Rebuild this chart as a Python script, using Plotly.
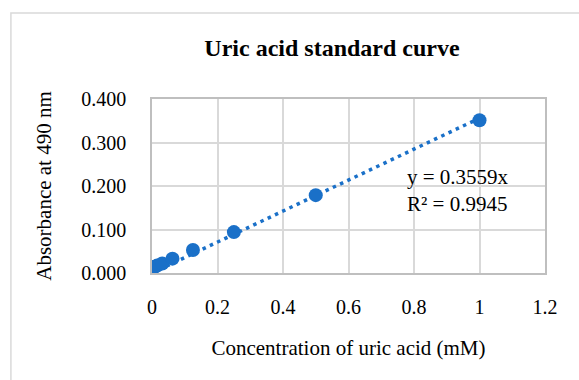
import plotly.graph_objects as go

# Uric acid standards (mM) and absorbance readings at 490 nm
concentration = [0, 0.0078, 0.0156, 0.03125, 0.0625, 0.125, 0.25, 0.5, 1]
absorbance = [0.013, 0.014, 0.017, 0.022, 0.033, 0.053, 0.094, 0.179, 0.351]

# Linear fit through the origin
slope = 0.3559
r_squared = 0.9945
fit_x = [0, 1]
fit_y = [slope * v for v in fit_x]

x_ticks = [0, 0.2, 0.4, 0.6, 0.8, 1, 1.2]
x_tick_labels = ["0", "0.2", "0.4", "0.6", "0.8", "1", "1.2"]
y_ticks = [0, 0.1, 0.2, 0.3, 0.4]

blue = "#1A70C8"
grid = "#D9D9D9"
font_family = "Liberation Serif, DejaVu Serif, serif"

fig = go.Figure()

fig.add_trace(go.Scatter(
    x=fit_x, y=fit_y, mode="lines",
    line=dict(color=blue, width=3.5, dash="3.5px,4.5px"),
    hoverinfo="skip", showlegend=False,
))

fig.add_trace(go.Scatter(
    x=concentration, y=absorbance, mode="markers",
    marker=dict(color=blue, size=14, line=dict(width=0)),
    showlegend=False,
))

fig.add_annotation(
    x=0.772, y=0.189, xref="x", yref="y",
    text=f"y = {slope}x<br>R² = {r_squared}",
    showarrow=False, xanchor="left", yanchor="middle", align="left",
    font=dict(family=font_family, size=21, color="#000000"),
)

# Chart area frame
fig.add_shape(
    type="rect", xref="paper", yref="paper",
    x0=-0.359, y0=-0.8, x1=1.3, y1=1.494,
    line=dict(color=grid, width=1.5), layer="below",
)

fig.update_layout(
    width=579, height=380,
    margin=dict(l=152, r=34, t=99, b=107),
    paper_bgcolor="white", plot_bgcolor="white",
    font=dict(family=font_family, size=21, color="#000000"),
    title=dict(
        text="<b>Uric acid standard curve</b>",
        x=332 / 579, xanchor="center",
        y=1 - 48 / 380, yanchor="middle",
        font=dict(family=font_family, size=24, color="#000000"),
    ),
    xaxis=dict(
        range=[0, 1.2], tickvals=x_ticks, ticktext=x_tick_labels,
        showgrid=True, gridcolor=grid, gridwidth=1.5,
        showline=True, linecolor="#BFBFBF", linewidth=1.5, mirror=True,
        zeroline=False, ticks="outside", ticklen=15, tickcolor="white",
        title=dict(text="Concentration of uric acid (mM)", standoff=24,
                   font=dict(size=21)),
        tickfont=dict(size=20),
    ),
    yaxis=dict(
        range=[0, 0.4], tickvals=y_ticks, tickformat=".3f",
        showgrid=True, gridcolor=grid, gridwidth=1.5,
        showline=True, linecolor="#BFBFBF", linewidth=1.5, mirror=True,
        zeroline=False, ticks="outside", ticklen=20, tickcolor="white",
        title=dict(text="Absorbance at 490 nm", standoff=24,
                   font=dict(size=21)),
        tickfont=dict(size=20),
    ),
)

fig.write_html("out.html")
